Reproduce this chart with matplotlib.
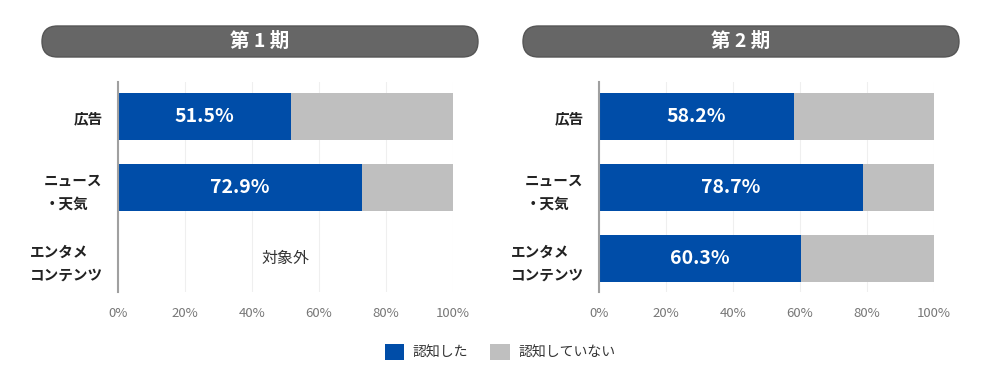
import numpy as np
import matplotlib
matplotlib.use("Agg")
import matplotlib.pyplot as plt
from matplotlib.patches import FancyBboxPatch, Patch

plt.rcParams['font.family'] = ['Noto Sans CJK JP', 'DejaVu Sans']

categories = ['広告', 'ニュース\n・天気', 'エンタメ\nコンテンツ']
periods = ['第 1 期', '第 2 期']
aware = [[51.5, 72.9, None], [58.2, 78.7, 60.3]]
not_aware = [[48.5, 27.1, None], [41.8, 21.3, 39.7]]
na_label = '対象外'
ticks = [0, 20, 40, 60, 80, 100]
legend_labels = ['認知した', '認知していない']

blue = '#004DA8'
gray = '#BFBFBF'

fig = plt.figure(figsize=[10, 3.91], dpi=100)

ax_left = [0.118, 0.599]
pill_left = [0.42, 5.23]

for p in range(2):
    ax = fig.add_axes([ax_left[p], 0.2532, 0.335, 0.537])
    y = np.arange(len(categories))
    for i in range(len(categories)):
        a = aware[p][i]
        n = not_aware[p][i]
        if a is None:
            ax.text(50, i, na_label, ha='center', va='center', fontsize=11.5, color='#333333')
            continue
        ax.barh(i, a, height=0.66, color=blue, zorder=3)
        ax.barh(i, n, left=a, height=0.66, color=gray, zorder=3)
        ax.text(a / 2, i, f'{a:.1f}%', ha='center', va='center', fontsize=14,
                fontweight='bold', color='white', zorder=4)
    ax.set_xlim(0, 100)
    ax.set_ylim(2.47, -0.49)
    ax.set_xticks(ticks)
    ax.set_xticklabels([f'{t}%' for t in ticks], color='#777777', fontsize=9.5)
    ax.set_yticks(y)
    ax.set_yticklabels(categories, fontsize=10.5, fontweight='bold', color='#222222', linespacing=1.5)
    for lbl in ax.get_yticklabels():
        lbl.set_multialignment('left')
    ax.tick_params(axis='both', length=0)
    ax.tick_params(axis='x', pad=11)
    ax.tick_params(axis='y', pad=11)
    ax.grid(axis='x', color='#EFEFEF', lw=0.8, zorder=0)
    for s in ['top', 'right', 'bottom']:
        ax.spines[s].set_visible(False)
    ax.spines['left'].set_color('#A0A0A0')
    ax.spines['left'].set_linewidth(1.5)
    ax.spines['left'].set_zorder(5)

    # title pill
    pill = FancyBboxPatch((pill_left[p], 3.34), 4.36, 0.31,
                          boxstyle='round,pad=0,rounding_size=0.155',
                          transform=fig.dpi_scale_trans, facecolor='#666666',
                          edgecolor='#555555', lw=1)
    fig.patches.append(pill)
    fig.text((pill_left[p] + 2.18) / 10, 1 - 41.5 / 391, periods[p], ha='center', va='center',
             fontsize=14, fontweight='bold', color='white')

handles = [Patch(facecolor=blue), Patch(facecolor=gray)]
fig.legend(handles, legend_labels, loc='center', bbox_to_anchor=(0.5, 1 - 352 / 391),
           ncol=2, frameon=False, fontsize=10, handlelength=1.4, handleheight=1.4,
           handletextpad=0.6, columnspacing=1.6, labelcolor='#333333')

fig.savefig('out.png', dpi=100)
